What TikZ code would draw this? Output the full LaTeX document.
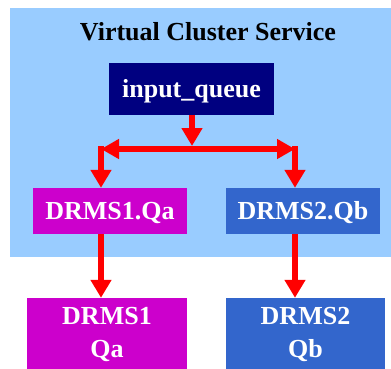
\documentclass[tikz,border=0pt]{standalone}
\usepackage{fontspec}
\setmainfont{Liberation Serif}[BoldFont={Liberation Serif Bold}]
\usetikzlibrary{arrows.meta,positioning}
\definecolor{clusterbg}{RGB}{153,204,255}
\definecolor{queuenavy}{RGB}{0,0,128}
\definecolor{drmsmagenta}{RGB}{204,0,204}
\definecolor{drmsblue}{RGB}{51,102,204}
\tikzset{
  clusterarea/.style={fill=clusterbg,inner sep=0pt,anchor=north west},
  titletext/.style={font=\rmfamily\bfseries\fontsize{26}{30}\selectfont,anchor=base,inner sep=0pt},
  queuebox/.style={fill=#1,text=white,align=center,inner sep=0pt,
    font=\rmfamily\bfseries\fontsize{26}{33}\selectfont},
  flatbox/.style={queuebox=#1,text height=17pt,text depth=0pt},
  flowarrow/.style={-{Triangle[width=20pt,length=18pt]},line width=6pt,draw=red},
  splitarrow/.style={{Triangle[width=19pt,length=18pt]}-{Triangle[width=19pt,length=18pt]},
    line width=6pt,draw=red}
}
\begin{document}
\begin{tikzpicture}[x=1pt,y=-1pt]
  \useasboundingbox (0,0) rectangle (391,368);
  \node[clusterarea,minimum width=381pt,minimum height=249pt] (cluster) at (10,8) {};
  \node[titletext] (title) at (208,40) {Virtual Cluster Service};
  % queues inside the cluster
  \node[flatbox=queuenavy,minimum width=165pt,minimum height=52pt] (inq) at (191.5,89) {input\_queue};
  \node[flatbox=drmsmagenta,minimum width=154pt,minimum height=46pt] (qa) at (110,211) {DRMS1.Qa};
  \node[flatbox=drmsblue,minimum width=154pt,minimum height=46pt] (qb) at (303,211) {DRMS2.Qb};
  % real servers below
  \node[queuebox=drmsmagenta,minimum width=160pt,minimum height=72pt] (drms1) at (107,334) {DRMS1\\Qa};
  \node[queuebox=drmsblue,minimum width=159pt,minimum height=72pt] (drms2) at (305.5,334) {DRMS2\\Qb};
  % split
  \coordinate (split) at (192,146);
  \coordinate (left) at (101,149);
  \coordinate (right) at (295,149);
  \draw[flowarrow] (inq.south -| split) -- (split);
  \draw[splitarrow] (left) -- (right);
  \draw[flowarrow] ([yshift=3pt]left) -- (left |- qa.north);
  \draw[flowarrow] ([yshift=3pt]right) -- (right |- qb.north);
  \draw[flowarrow] (qa.south -| left) -- (left |- drms1.north);
  \draw[flowarrow] (qb.south -| right) -- (right |- drms2.north);
\end{tikzpicture}
\end{document}
